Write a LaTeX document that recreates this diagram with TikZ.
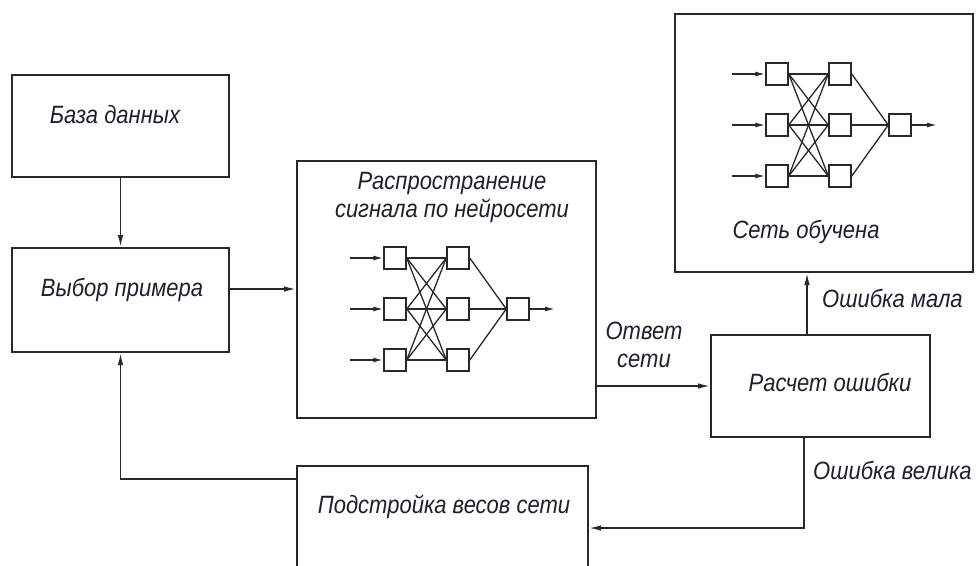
\documentclass[tikz,border=0pt]{standalone}
\usepackage{fontspec}
\setmainfont{Liberation Sans}
\newfontfamily\labelfont[FakeStretch=0.88]{Liberation Sans}
\usetikzlibrary{arrows.meta}
\definecolor{ink}{RGB}{30,30,45}
\definecolor{linecol}{RGB}{40,40,40}

\begin{document}
\begin{tikzpicture}[x=1pt,y=-1pt,
  block/.style={draw=linecol, line width=2pt, inner sep=0pt},
  neuron/.style={draw=linecol, line width=1.5pt, fill=white, minimum size=22pt, inner sep=0pt},
  flow/.style={draw=linecol, line width=1.5pt, -{Latex[length=12pt,width=5.5pt]}},
  netarrow/.style={draw=linecol, line width=1.5pt, -{Latex[length=10pt,width=5pt]}},
  netlink/.style={draw=linecol, line width=1.3pt},
  txt/.style={font=\labelfont\fontsize{25}{28}\selectfont\itshape, text=ink, inner sep=0pt, align=center}]

\useasboundingbox (0,0) rectangle (976,565);

% blocks
\node[block, minimum width=217pt, minimum height=102pt] (db)      at (120.5,126) {};
\node[block, minimum width=217pt, minimum height=104pt] (vybor)   at (120.5,300) {};
\node[block, minimum width=299pt, minimum height=257pt] (prop)    at (446.5,289.5) {};
\node[block, minimum width=298pt, minimum height=258pt] (trained) at (824,143) {};
\node[block, minimum width=219pt, minimum height=102pt] (raschet) at (820.5,386) {};
\node[block, minimum width=291pt, minimum height=134pt] (podstr)  at (442.5,533) {};

% block captions
\node[txt] (tdb)      at (115,115) {База данных};
\node[txt] (tvybor)   at (122,290) {Выбор примера};
\node[txt] (tprop)    at (452,197) {Распространение\\сигнала по нейросети};
\node[txt] (ttrained) at (806,232) {Сеть обучена};
\node[txt] (traschet) at (830,382) {Расчет ошибки};
\node[txt] (tpodstr)  at (444,507) {Подстройка весов сети};

% small three-layer networks
\foreach \pre/\cx/\cy in {p-/395/309, t-/777/125}{
  \begin{scope}[shift={(\cx,\cy)}, name prefix=\pre]
    \foreach \i/\dy in {1/-51,2/0,3/51}{
      \node[neuron] (in\i) at (0,\dy) {};
      \node[neuron] (hd\i) at (63,\dy) {};
      \coordinate (src\i) at (-45,\dy);
      \draw[netarrow] (src\i) -- (in\i.west);
    }
    \node[neuron] (out) at (123,0) {};
    \coordinate (snk) at (160,0);
    \draw[netarrow] (out.east) -- (snk);
    \foreach \i in {1,2,3}{
      \foreach \j in {1,2,3}{
        \draw[netlink] (in\i.east) -- (hd\j.west);
      }
      \draw[netlink] (hd\i.east) -- (out.west);
    }
  \end{scope}
}

% connectors
\draw[flow] (db.south) -- (vybor.north);

\coordinate (va) at ([yshift=11pt]vybor.east);
\draw[flow] (va) -- (va -| prop.west);

\draw[flow] (prop.east |- raschet.west) -- (raschet.west);
\node[txt] (lanswer) at (644,345) {Ответ\\сети};

\coordinate (rt) at ([xshift=-13.5pt]raschet.north);
\draw[flow] (rt) -- (rt |- trained.south);
\node[txt, anchor=west] (lsmall) at (822,298) {Ошибка мала};

\coordinate (rb) at ([xshift=-16.5pt]raschet.south);
\coordinate (bend) at (804,528);
\draw[flow] (rb) -- (bend) -- (bend -| podstr.east);
\node[txt, anchor=west] (lbig) at (813,470) {Ошибка велика};

\coordinate (fb) at (120.5,479);
\draw[flow] (fb -| podstr.west) -- (fb) -- (vybor.south);

\end{tikzpicture}
\end{document}
